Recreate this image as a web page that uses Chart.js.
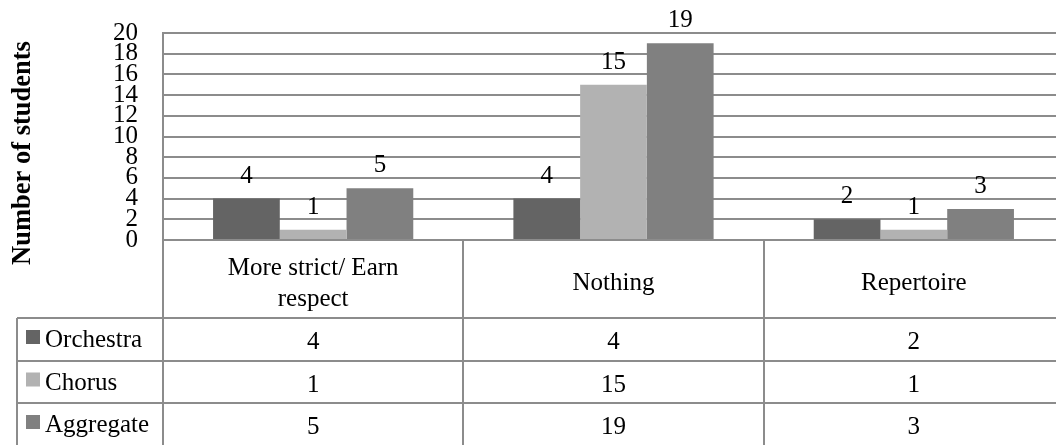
<!DOCTYPE html>
<html>
<head>
<meta charset="utf-8">
<script src="https://cdn.jsdelivr.net/npm/chart.js@4"></script>
<style>
  html, body { margin: 0; padding: 0; background: #fff; overflow: hidden; }
  #wrap { width: 1056px; height: 445px; overflow: hidden; }
</style>
</head>
<body>
<div id="wrap"><canvas id="chart" width="1064" height="445"></canvas></div>
<script>
const categories = [['More strict/ Earn', 'respect'], ['Nothing'], ['Repertoire']];
const seriesNames = ['Orchestra', 'Chorus', 'Aggregate'];
const orchestra = [4, 4, 2];
const chorus = [1, 15, 1];
const aggregate = [5, 19, 3];
const yMin = 0;
const yMax = 20;
const yStep = 2;
const yTitle = 'Number of students';

const colors = ['#646464', '#b2b2b2', '#808080'];
const lineColor = '#8c8c8c';
const serif = "'Liberation Serif', 'Times New Roman', serif";

// value labels above each bar
const barLabels = {
  id: 'barLabels',
  afterDatasetsDraw(chart) {
    const { ctx } = chart;
    ctx.save();
    ctx.font = '25px ' + serif;
    ctx.fillStyle = '#000';
    ctx.textAlign = 'center';
    ctx.textBaseline = 'alphabetic';
    chart.data.datasets.forEach((ds, i) => {
      chart.getDatasetMeta(i).data.forEach((bar, j) => {
        ctx.fillText(String(ds.data[j]), bar.x, bar.y - 16);
      });
    });
    ctx.restore();
  },
};

// Excel-like data table under the plot, plus the rotated axis title
const dataTable = {
  id: 'dataTable',
  afterDraw(chart) {
    const { ctx, chartArea, scales } = chart;
    const x = scales.x;
    const step = x.getPixelForValue(1) - x.getPixelForValue(0);
    const top = chartArea.bottom;
    const headerH = 78;
    const rowH = 42.5;
    const tableLeft = 17;
    const bottom = chart.height;

    ctx.save();
    ctx.strokeStyle = lineColor;
    ctx.lineWidth = 2;

    // vertical lines at category edges
    ctx.beginPath();
    chart.data.labels.forEach((_, i) => {
      const edge = Math.round(x.getPixelForValue(i) - step / 2);
      ctx.moveTo(edge, top);
      ctx.lineTo(edge, bottom);
    });
    ctx.moveTo(tableLeft, top + headerH);
    ctx.lineTo(tableLeft, bottom);
    // row lines
    for (let r = 0; r < seriesNames.length; r++) {
      const y = Math.round(top + headerH + r * rowH);
      ctx.moveTo(tableLeft, y);
      ctx.lineTo(chart.width, y);
    }
    ctx.stroke();

    ctx.fillStyle = '#000';
    ctx.font = '25px ' + serif;
    ctx.textAlign = 'center';
    ctx.textBaseline = 'alphabetic';

    // header cells
    chart.data.labels.forEach((lab, i) => {
      const cx = x.getPixelForValue(i);
      const lines = Array.isArray(lab) ? lab : [lab];
      const base = top + 50 - (lines.length - 1) * 31 / 2;
      lines.forEach((t, k) => ctx.fillText(t, cx, base + k * 31));
    });

    // series rows
    chart.data.datasets.forEach((ds, r) => {
      const rowTop = top + headerH + r * rowH;
      ctx.fillStyle = ds.backgroundColor;
      ctx.fillRect(26, rowTop + 12, 14, 14);
      ctx.fillStyle = '#000';
      ctx.textAlign = 'left';
      ctx.fillText(ds.label, 45, rowTop + 29);
      ctx.textAlign = 'center';
      ds.data.forEach((v, j) => {
        ctx.fillText(String(v), x.getPixelForValue(j), rowTop + 31);
      });
    });

    // axis title
    ctx.translate(23, 153);
    ctx.rotate(-Math.PI / 2);
    ctx.font = 'bold 26.5px ' + serif;
    ctx.textAlign = 'center';
    ctx.textBaseline = 'middle';
    ctx.fillText(yTitle, 0, 0);
    ctx.restore();
  },
};

new Chart(document.getElementById('chart'), {
  type: 'bar',
  data: {
    labels: categories,
    datasets: [
      { label: seriesNames[0], data: orchestra, backgroundColor: colors[0] },
      { label: seriesNames[1], data: chorus, backgroundColor: colors[1] },
      { label: seriesNames[2], data: aggregate, backgroundColor: colors[2] },
    ],
  },
  options: {
    responsive: false,
    animation: false,
    layout: {
      autoPadding: false,
      padding: { top: 33, bottom: 205, left: 0, right: 0 },
    },
    datasets: {
      bar: {
        categoryPercentage: 200 / 300,
        barPercentage: 1,
        borderWidth: 0,
      },
    },
    plugins: {
      legend: { display: false },
      tooltip: { enabled: false },
    },
    scales: {
      x: {
        display: false,
      },
      y: {
        min: yMin,
        max: yMax,
        afterFit: scale => {
          scale.width = 163;
          scale.paddingTop = 0;
          scale.paddingBottom = 0;
        },
        grid: {
          color: lineColor,
          lineWidth: 2,
          drawTicks: false,
        },
        border: {
          color: lineColor,
          width: 2,
        },
        ticks: {
          stepSize: yStep,
          autoSkip: false,
          padding: 25,
          color: '#000',
          font: { family: serif, size: 25, lineHeight: 1 },
        },
      },
    },
  },
  plugins: [barLabels, dataTable],
});
</script>
</body>
</html>
